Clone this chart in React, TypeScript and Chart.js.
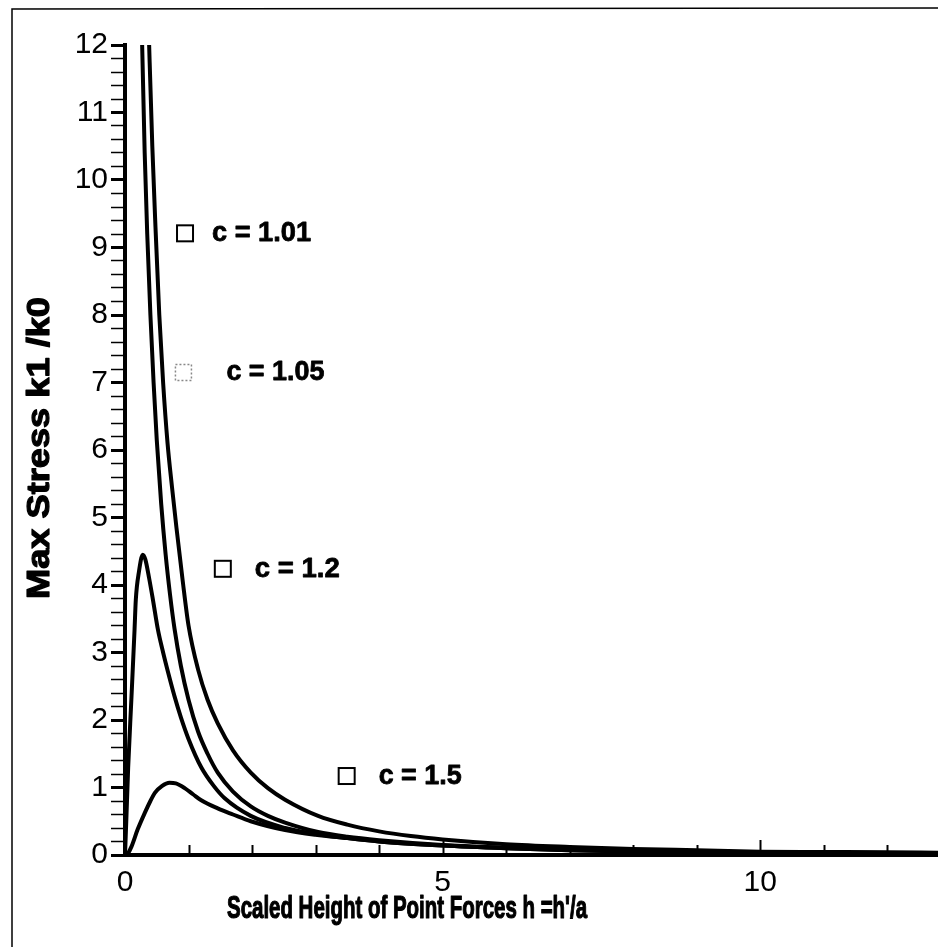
import React, { useEffect, useRef } from "react";
import { Chart, registerables } from "chart.js";

Chart.register(...registerables);

// ---------- data ----------
const X_MIN = 0;
const X_MAX = 12.8;
const Y_MIN = 0;
const Y_MAX = 12;

const seriesLabels = ["c = 1.01", "c = 1.05", "c = 1.2", "c = 1.5"];

const h101 = [0.33, 0.38, 0.43, 0.48, 0.54, 0.6, 0.67, 0.74, 0.81, 0.91, 1.0, 1.15, 1.3, 1.46, 1.7, 1.98, 2.25, 2.52, 3.04, 3.5, 4, 4.5, 5, 6, 7, 8, 9, 10, 11, 12, 12.8];
const k101 = [13.6, 12, 10.5, 9.3, 8.0, 7.0, 6.1, 5.45, 4.85, 4.05, 3.4, 2.75, 2.3, 1.95, 1.55, 1.22, 0.99, 0.82, 0.58, 0.45, 0.35, 0.28, 0.23, 0.16, 0.12, 0.09, 0.07, 0.05, 0.045, 0.04, 0.035];

const h105 = [0.24, 0.27, 0.31, 0.35, 0.4, 0.45, 0.5, 0.57, 0.64, 0.71, 0.78, 0.88, 1.0, 1.15, 1.3, 1.46, 1.7, 1.98, 2.25, 2.52, 3.04, 3.5, 4, 5, 6, 7, 8, 9, 10, 11, 12, 12.8];
const k105 = [13.6, 12, 10.4, 9.2, 8.0, 7.0, 6.15, 5.2, 4.45, 3.85, 3.35, 2.8, 2.3, 1.83, 1.5, 1.22, 0.94, 0.72, 0.58, 0.48, 0.34, 0.27, 0.22, 0.15, 0.11, 0.08, 0.06, 0.05, 0.04, 0.035, 0.03, 0.03];

const h12 = [0, 0.02, 0.05, 0.1, 0.15, 0.17, 0.22, 0.28, 0.32, 0.38, 0.44, 0.52, 0.6, 0.68, 0.78, 0.88, 1.0, 1.2, 1.4, 1.57, 1.98, 2.52, 3.0, 3.5, 4, 5, 6, 7, 8, 9, 10, 11, 12, 12.8];
const k12 = [0, 0.5, 1.3, 2.3, 3.33, 3.78, 4.2, 4.45, 4.38, 4.1, 3.78, 3.33, 3.0, 2.7, 2.35, 2.04, 1.72, 1.3, 1.02, 0.84, 0.58, 0.4, 0.31, 0.25, 0.2, 0.14, 0.1, 0.07, 0.05, 0.04, 0.03, 0.025, 0.02, 0.02];

const h15 = [0, 0.05, 0.1, 0.2, 0.31, 0.4, 0.47, 0.58, 0.7, 0.8, 0.94, 1.07, 1.2, 1.46, 1.7, 1.98, 2.52, 3.0, 3.5, 4, 5, 6, 7, 8, 9, 10, 11, 12, 12.8];
const k15 = [0, 0.03, 0.12, 0.38, 0.62, 0.8, 0.92, 1.02, 1.07, 1.06, 0.99, 0.9, 0.81, 0.69, 0.6, 0.5, 0.37, 0.3, 0.25, 0.2, 0.14, 0.1, 0.07, 0.05, 0.04, 0.03, 0.025, 0.02, 0.02];

const xLabelEvery = 5;
const xMinorStep = 1;
const yMinorStep = 0.2;

const xTitle = "Scaled Height of Point Forces h =h'/a";
const yTitle = "Max Stress k1 /k0";

// annotation anchors (square centre in data units), kept apart from the data
const annotationAnchors = [
  { x: 0.945, y: 9.21, gap: 19, textW: 99, dotted: false },
  { x: 0.92, y: 7.15, gap: 35, textW: 98, dotted: true },
  { x: 1.54, y: 4.24, gap: 24, textW: 85, dotted: false },
  { x: 3.49, y: 1.17, gap: 24, textW: 83, dotted: false },
];

const isWhole = (v: number) => Math.abs(v - Math.round(v)) < 1e-6;

const TICK_FONT = "'Liberation Sans Narrow', 'Liberation Sans', Arial, sans-serif";
const TITLE_FONT = "bold 31px 'Liberation Sans', Arial, sans-serif";
const NOTE_FONT = "bold 28px 'Liberation Sans', Arial, sans-serif";

function fitText(
  ctx: CanvasRenderingContext2D,
  text: string,
  x: number,
  y: number,
  width: number,
  font: string,
  rotate = 0,
  align: CanvasTextAlign = "center",
  thicken = 0
) {
  ctx.save();
  ctx.font = font;
  const w = ctx.measureText(text).width || 1;
  ctx.translate(x, y);
  if (rotate) ctx.rotate(rotate);
  ctx.scale(width / w, 1);
  ctx.textAlign = align;
  ctx.textBaseline = "middle";
  ctx.fillStyle = "#000";
  ctx.fillText(text, 0, 0);
  if (thicken > 0) {
    ctx.strokeStyle = "#000";
    ctx.lineWidth = thicken;
    ctx.lineJoin = "round";
    ctx.strokeText(text, 0, 0);
  }
  ctx.restore();
}

const decorPlugin = {
  id: "decor",
  afterDraw(chart: any) {
    const { ctx, chartArea, scales } = chart;
    const xs = scales.x;
    const ys = scales.y;
    ctx.save();
    // outer frame (top and left)
    ctx.strokeStyle = "#000";
    ctx.lineWidth = 1.5;
    ctx.beginPath();
    ctx.moveTo(12, 947);
    ctx.lineTo(12, 9);
    ctx.lineTo(938, 8);
    ctx.stroke();

    // upward ticks on x axis
    ctx.lineWidth = 2;
    for (let v = xMinorStep; v <= X_MAX; v += xMinorStep) {
      const px = Math.round(xs.getPixelForValue(v)) + 0.5;
      const len = isWhole(v / xLabelEvery) ? 15 : 10;
      ctx.beginPath();
      ctx.moveTo(px, chartArea.bottom);
      ctx.lineTo(px, chartArea.bottom - len);
      ctx.stroke();
    }

    // axis titles
    fitText(ctx, xTitle, 407, 909, 360, TITLE_FONT, 0, "center", 1.2);
    fitText(ctx, yTitle, 40, 448, 302, TITLE_FONT, -Math.PI / 2, "center", 1.2);

    // series annotations
    annotationAnchors.forEach((a, i) => {
      const cx = xs.getPixelForValue(a.x);
      const cy = ys.getPixelForValue(a.y);
      ctx.save();
      ctx.lineWidth = a.dotted ? 1.5 : 2;
      ctx.strokeStyle = a.dotted ? "#888" : "#000";
      if (a.dotted) ctx.setLineDash([2, 2]);
      ctx.strokeRect(cx - 8, cy - 8, 16, 16);
      ctx.restore();
      fitText(ctx, seriesLabels[i], cx + 8 + a.gap, cy, a.textW, NOTE_FONT, 0, "left", 0.8);
    });
    ctx.restore();
  },
};

const toPoints = (xs: number[], ys: number[]) => xs.map((x, i) => ({ x, y: ys[i] }));

export default function App() {
  const ref = useRef<HTMLCanvasElement | null>(null);

  useEffect(() => {
    if (!ref.current) return;
    const series = [
      [h101, k101],
      [h105, k105],
      [h12, k12],
      [h15, k15],
    ];
    const chart = new Chart(ref.current, {
      type: "line",
      data: {
        datasets: series.map(([hx, ky], i) => ({
          label: seriesLabels[i],
          data: toPoints(hx, ky),
          borderColor: "#000",
          backgroundColor: "#000",
          borderWidth: 4,
          pointRadius: 0,
          fill: false,
          cubicInterpolationMode: "monotone" as const,
        })),
      },
      options: {
        responsive: false,
        animation: false,
        maintainAspectRatio: false,
        layout: { padding: { top: 45, right: 0, left: 0, bottom: 0 } },
        plugins: {
          legend: { display: false },
          tooltip: { enabled: false },
          title: { display: false },
        },
        scales: {
          x: {
            type: "linear",
            min: X_MIN,
            max: X_MAX,
            afterFit: (s: any) => {
              s.height = 92;
            },
            ticks: {
              stepSize: xMinorStep,
              autoSkip: false,
              maxRotation: 0,
              padding: 0,
              color: "#000",
              font: { family: TICK_FONT, size: 30 },
              callback: (v: any) => (isWhole(Number(v) / xLabelEvery) ? String(Math.round(Number(v))) : ""),
            },
            grid: { drawOnChartArea: false, drawTicks: true, tickLength: 10, tickColor: "rgba(0,0,0,0)" },
            border: { display: true, width: 4, color: "#000" },
          },
          y: {
            type: "linear",
            min: Y_MIN,
            max: Y_MAX,
            afterFit: (s: any) => {
              s.width = 125;
            },
            ticks: {
              stepSize: yMinorStep,
              autoSkip: false,
              padding: 3,
              color: "#000",
              font: { family: TICK_FONT, size: 30 },
              callback: (v: any) => (isWhole(Number(v)) ? String(Math.round(Number(v))) : ""),
            },
            grid: {
              drawOnChartArea: false,
              drawTicks: true,
              tickLength: 14,
              tickColor: "#000",
              tickWidth: (c: any) => (c.tick && isWhole(c.tick.value) ? 3 : 1.5),
            },
            border: { display: true, width: 4, color: "#000" },
          },
        },
      },
      plugins: [decorPlugin],
    });
    return () => chart.destroy();
  }, []);

  return (
    <div style={{ position: "absolute", left: 0, top: 0, width: 938, height: 947, background: "#fff" }}>
      <canvas ref={ref} width={938} height={947} style={{ display: "block", width: 938, height: 947 }} />
    </div>
  );
}
